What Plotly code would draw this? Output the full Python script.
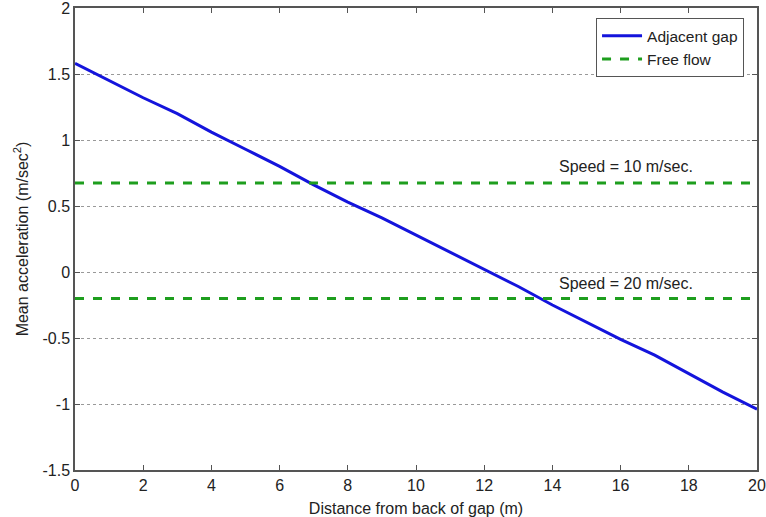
import plotly.graph_objects as go

x_adj = [0, 1, 2, 3, 4, 5, 6, 7, 8, 9, 10, 11, 12, 13, 14, 15, 16, 17, 18, 19, 20]
y_adj = [1.58, 1.45, 1.32, 1.20, 1.06, 0.93, 0.80, 0.66, 0.53, 0.41, 0.28, 0.15, 0.02, -0.11, -0.25, -0.38, -0.51, -0.63, -0.77, -0.91, -1.04]
free_flow_10 = 0.675
free_flow_20 = -0.20
x_range = [0, 20]
y_ticks = [-1.5, -1, -0.5, 0, 0.5, 1, 1.5, 2]
y_ticktext = ["-1.5", "-1", "-0.5", "0", "0.5", "1", "1.5", "2"]
x_ticks = [0, 2, 4, 6, 8, 10, 12, 14, 16, 18, 20]

fig = go.Figure()
fig.add_trace(go.Scatter(x=x_adj, y=y_adj, mode="lines", name="Adjacent gap",
                         line=dict(color="#1414dc", width=3)))
fig.add_trace(go.Scatter(x=x_range, y=[free_flow_10, free_flow_10], mode="lines", name="Free flow",
                         line=dict(color="#1e9e1e", width=3, dash="dash")))
fig.add_trace(go.Scatter(x=x_range, y=[free_flow_20, free_flow_20], mode="lines", name="Free flow",
                         showlegend=False,
                         line=dict(color="#1e9e1e", width=3, dash="dash")))

fig.add_annotation(x=16.16, y=free_flow_10, text="Speed = 10 m/sec.", showarrow=False,
                   yshift=16, font=dict(size=16, color="#222"))
fig.add_annotation(x=16.16, y=free_flow_20, text="Speed = 20 m/sec.", showarrow=False,
                   yshift=15, font=dict(size=16, color="#222"))

axis_common = dict(showline=True, linecolor="#555", linewidth=1.5, mirror="ticks",
                   ticks="inside", ticklen=5, tickcolor="#555", zeroline=False,
                   ticklabeloverflow="allow", automargin=False,
                   tickfont=dict(size=16, color="#222"))
fig.update_xaxes(range=x_range, tickvals=x_ticks, showgrid=False,
                 title=dict(text="Distance from back of gap (m)", font=dict(size=16, color="#222"), standoff=10),
                 **axis_common)
fig.update_yaxes(range=[-1.5, 2], tickvals=y_ticks, ticktext=y_ticktext,
                 showgrid=True, gridcolor="#999", griddash="dot", gridwidth=1,
                 title=dict(text="Mean acceleration (m/sec<sup>2</sup>)", font=dict(size=16, color="#222"), standoff=10),
                 **axis_common)

fig.update_layout(width=766, height=517, margin=dict(l=75, r=9, t=8, b=47, autoexpand=False),
                  paper_bgcolor="white", plot_bgcolor="white",
                  font=dict(family="Liberation Sans, Arial, sans-serif", color="#222"),
                  legend=dict(x=0.981, y=0.978, xanchor="right", yanchor="top",
                              bordercolor="#555", borderwidth=1, bgcolor="white",
                              font=dict(size=15.5), tracegroupgap=0, itemwidth=40))

fig.write_html("out.html")
